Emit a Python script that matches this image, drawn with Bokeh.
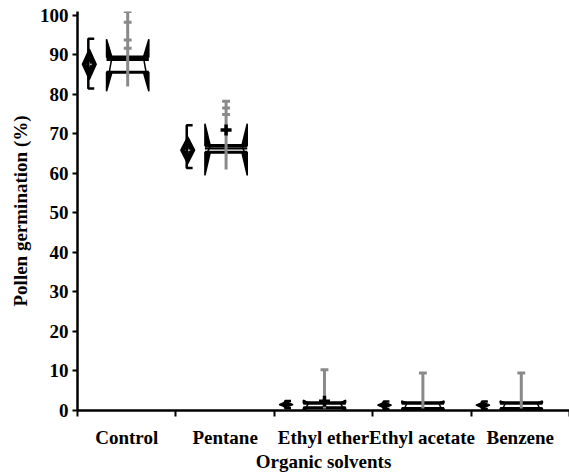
from bokeh.plotting import figure
from bokeh.models import Range1d, FixedTicker
from bokeh.embed import file_html
from bokeh.resources import INLINE

# ---- data ----
categories = ["Control", "Pentane", "Ethyl ether", "Ethyl acetate", "Benzene"]

diamond_top = [91.5, 69.3, 2.2, 2.1, 2.1]
diamond_bottom = [83.8, 62.5, 0.8, 0.6, 0.6]
bracket_top = [94.1, 72.2, 2.4, 2.3, 2.3]
bracket_bottom = [81.5, 61.4, 0.6, 0.4, 0.4]

box_top = [94.0, 72.6, 2.6, 2.4, 2.4]
box_upper = [89.4, 67.0, 1.9, 1.9, 1.9]
box_median = [88.7, 66.3, 1.9, 1.9, 1.9]
box_lower = [85.6, 65.4, 0.7, 0.5, 0.5]
box_bottom = [80.8, 59.5, 0.1, 0.1, 0.1]

whisker_top = [101.0, 78.3, 10.3, 9.5, 9.5]
whisker_bottom = [82.0, 61.0, 0.5, 0.5, 0.5]
whisker_ticks = [[98.3, 93.8, 91.7], [76.6, 74.9], [], [], []]
plus_marks = [None, 71.0, 2.35, None, None]

y_ticks = list(range(0, 101, 10))

# ---- layout constants (styles/positions) ----
D_OFF, D_HW = 0.12, 0.07
BR_X, BR_CAP = 0.11, 0.17
B_OFF, B_HW, W_W = 0.51, 0.215, 0.055
CAP_HW = 0.04
FONT = "Liberation Serif"
GRAY = "#8a8a8a"
INK = "#000000"

n = len(categories)
centers = [i + 0.5 for i in range(n)]

p = figure(width=569, height=474, output_backend="svg", toolbar_location=None,
           x_range=Range1d(0, n), y_range=Range1d(0, 101),
           min_border_left=77, min_border_right=0, min_border_top=11, min_border_bottom=63)
p.outline_line_color = None
p.xgrid.visible = False
p.ygrid.visible = False

# axes (styled first)
xa = p.xaxis[0]
xa.ticker = FixedTicker(ticks=centers, minor_ticks=list(range(n + 1)))
xa.major_label_overrides = {c: lab for c, lab in zip(centers, categories)}
xa.major_label_text_font = FONT
xa.major_label_text_font_style = "bold"
xa.major_label_text_font_size = "19px"
xa.major_label_text_color = INK
xa.axis_label = "Organic solvents"
xa.axis_label_text_font = FONT
xa.axis_label_text_font_style = "bold"
xa.axis_label_text_font_size = "19px"
xa.axis_label_text_color = INK
xa.major_tick_out = 0
xa.major_tick_in = 0
xa.minor_tick_out = 6
xa.minor_tick_in = 0
xa.minor_tick_line_width = 2
xa.minor_tick_line_color = INK
xa.axis_line_width = 2.5
xa.axis_line_color = INK
xa.major_label_standoff = 10
xa.axis_label_standoff = 0

ya = p.yaxis[0]
ya.ticker = FixedTicker(ticks=y_ticks, minor_ticks=[])
ya.major_label_text_font = FONT
ya.major_label_text_font_style = "bold"
ya.major_label_text_font_size = "19px"
ya.major_label_text_color = INK
ya.axis_label = "Pollen germination (%)"
ya.axis_label_text_font = FONT
ya.axis_label_text_font_style = "bold"
ya.axis_label_text_font_size = "19px"
ya.axis_label_text_color = INK
ya.major_tick_out = 5
ya.major_tick_in = 0
ya.major_tick_line_width = 2
ya.major_tick_line_color = INK
ya.axis_line_width = 2.5
ya.axis_line_color = INK
ya.major_label_standoff = 4
ya.axis_label_standoff = 6

# diamonds
dxs, dys = [], []
for i in range(n):
    cx = i + D_OFF
    mid = (diamond_top[i] + diamond_bottom[i]) / 2
    dxs.append([cx, cx + D_HW, cx, cx - D_HW])
    dys.append([diamond_top[i], mid, diamond_bottom[i], mid])
p.patches(dxs, dys, fill_color=INK, line_color=INK, line_width=1.5)
big = [i for i in range(n) if diamond_top[i] - diamond_bottom[i] > 5]
p.scatter([i + D_OFF for i in big],
          [(diamond_top[i] + diamond_bottom[i]) / 2 for i in big],
          marker="cross", size=5, line_color="white", line_width=1)

# brackets
bxs, bys = [], []
for i in range(n):
    bxs.append([i + BR_CAP, i + BR_X, i + BR_X, i + BR_CAP])
    bys.append([bracket_top[i], bracket_top[i], bracket_bottom[i], bracket_bottom[i]])
p.multi_line(bxs, bys, line_color=INK, line_width=2.5)

# box wedges
wxs, wys = [], []
for i in range(n):
    L = i + B_OFF - B_HW
    R = i + B_OFF + B_HW
    wxs += [[L, L + W_W, L], [R, R - W_W, R], [L, L + W_W, L], [R, R - W_W, R]]
    wys += [[box_top[i], box_upper[i], box_upper[i]],
            [box_top[i], box_upper[i], box_upper[i]],
            [box_lower[i], box_lower[i], box_bottom[i]],
            [box_lower[i], box_lower[i], box_bottom[i]]]
p.patches(wxs, wys, fill_color=INK, line_color=INK, line_width=1.5)

Ls = [i + B_OFF - B_HW for i in range(n)]
Rs = [i + B_OFF + B_HW for i in range(n)]
p.segment(Ls, box_upper, Rs, box_upper, line_color=INK, line_width=3.5)
p.segment(Ls, box_median, Rs, box_median, line_color=INK, line_width=2)
p.segment(Ls, box_lower, Rs, box_lower, line_color=INK, line_width=3)
p.segment([l + W_W for l in Ls], box_upper, [l + W_W * 0.5 for l in Ls], box_lower,
          line_color=INK, line_width=1.5)
p.segment([r - W_W for r in Rs], box_upper, [r - W_W * 0.5 for r in Rs], box_lower,
          line_color=INK, line_width=1.5)

# gray whiskers
bx = [i + B_OFF for i in range(n)]
p.segment(bx, whisker_bottom, bx, whisker_top, line_color=GRAY, line_width=3)
tx, ty = [], []
for i in range(n):
    for v in [whisker_top[i]] + whisker_ticks[i]:
        tx.append(bx[i]); ty.append(v)
p.segment([x - CAP_HW for x in tx], ty, [x + CAP_HW for x in tx], ty,
          line_color=GRAY, line_width=3)

# black plus marks
px = [bx[i] for i in range(n) if plus_marks[i] is not None]
py = [plus_marks[i] for i in range(n) if plus_marks[i] is not None]
p.scatter(px, py, marker="cross", size=11, line_color=INK, line_width=3.5)

open("out.html", "w").write(file_html(p, INLINE))
